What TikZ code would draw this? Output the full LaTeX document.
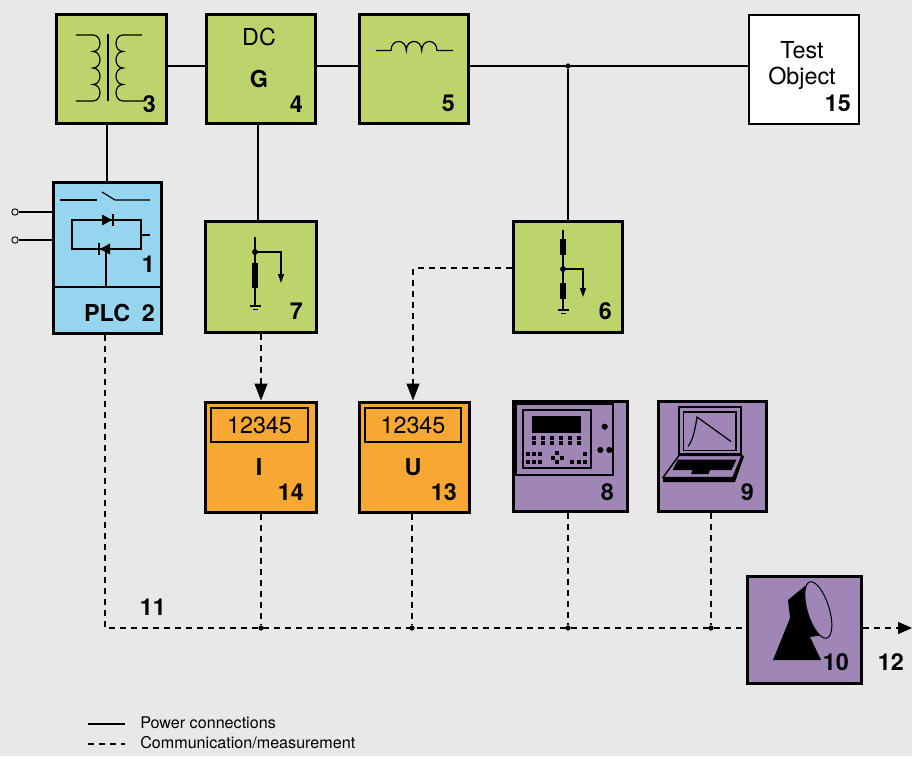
\documentclass[tikz,border=0pt]{standalone}
\usepackage{fontspec}
\setmainfont{TeX Gyre Heros}
\usetikzlibrary{arrows.meta}
\definecolor{bg}{HTML}{E8E8E8}
\definecolor{grn}{HTML}{BDD46C}
\definecolor{blu}{HTML}{96D5F0}
\definecolor{org}{HTML}{F6A833}
\definecolor{pur}{HTML}{A086B7}
\tikzset{
 myboxst/.style={draw=black, line width=2.25pt, inner sep=0pt, outer sep=1.125pt, rectangle},
 pwr/.style={line width=0.9pt},
 cmm/.style={line width=0.9pt, dash pattern=on 4.5pt off 3.75pt},
 arrowend/.style={-{Triangle[length=12.75pt,width=9.75pt]}},
 smallarrow/.style={-{Triangle[length=6.75pt,width=4.5pt]}},
 numlbl/.style={font=\fontsize{17.5}{20}\selectfont\bfseries, inner sep=0pt, anchor=base east},
 txtlbl/.style={font=\fontsize{17.5}{20}\selectfont, inner sep=0pt, anchor=base},
 boldlbl/.style={font=\fontsize{17.5}{20}\selectfont\bfseries, inner sep=0pt, anchor=base},
 leglbl/.style={font=\fontsize{12.1}{14}\selectfont, inner sep=0pt, anchor=base west},
 symln/.style={line width=0.9pt},
 jdot/.style={circle, fill=black, inner sep=0pt, minimum size=3.9pt},
 term/.style={circle, draw=black, fill=bg, line width=0.7pt, inner sep=0pt, minimum size=4.8pt},
}
\newcommand\mybox[6]{\node[myboxst,#2,minimum width={(#5-#3-3)*0.75pt},minimum height={(#6-#4-3)*0.75pt},anchor=north west] (#1) at ({#3+1.5},{#4+1.5}) {};}
\begin{document}
\begin{tikzpicture}[x=0.75pt,y=-0.75pt]
\useasboundingbox (0,0) rectangle (912,756);
\fill[bg] (0,0) rectangle (912,756);

% boxes
\mybox{b3}{fill=grn}{53}{12}{166}{124}
\mybox{b4}{fill=grn}{203}{12}{315}{124}
\mybox{b5}{fill=grn}{356}{12}{468}{124}
\mybox{b15}{fill=white,line width=1.9pt}{746}{12}{859}{124}
\mybox{b1}{fill=blu}{50}{179}{161}{333}
\mybox{b7}{fill=grn}{202}{218}{316}{332}
\mybox{b6}{fill=grn}{510}{218}{622}{332}
\mybox{b14}{fill=org}{202}{399}{316}{512}
\mybox{b13}{fill=org}{356}{399}{469}{512}
\mybox{b8}{fill=pur}{510}{398}{627}{511}
\mybox{b9}{fill=pur}{655}{398}{766}{511}
\mybox{b10}{fill=pur}{744}{573}{861}{683}

% transformer (3)
\draw[symln] (76,35) -- (93,35) .. controls (102.3,35) and (102.3,51.5) .. (93,51.5)
  .. controls (102.3,51.5) and (102.3,68) .. (93,68)
  .. controls (102.3,68) and (102.3,84.5) .. (93,84.5)
  .. controls (102.3,84.5) and (102.3,101) .. (93,101) -- (76,101);
\draw[line width=1.6pt] (108,34) -- (108,101);
\draw[symln] (142,35) -- (123,35) .. controls (113.7,35) and (113.7,51.5) .. (123,51.5)
  .. controls (113.7,51.5) and (113.7,68) .. (123,68)
  .. controls (113.7,68) and (113.7,84.5) .. (123,84.5)
  .. controls (113.7,84.5) and (113.7,101) .. (123,101) -- (145,101);

% inductor (5)
\draw[symln] (376,50.5) -- (391,50.5) .. controls (391,38.5) and (406.3,38.5) .. (406.3,50.5)
  .. controls (406.3,38.5) and (421.7,38.5) .. (421.7,50.5)
  .. controls (421.7,38.5) and (437,38.5) .. (437,50.5) -- (453,50.5);

% box 1/2 symbols
\draw[symln] (60,200) -- (97,200);
\draw[symln] (102,192) -- (115,200) -- (150,200);
\draw[symln] (72,220) rectangle (141,249);
\fill (102,214.5) -- (112,220) -- (102,225.5) -- cycle;
\draw[symln] (113,214) -- (113,226);
\fill (110,243.5) -- (100,249) -- (110,254.5) -- cycle;
\draw[symln] (99,243) -- (99,255);
\draw[symln] (106,249) -- (106,287);
\draw[symln] (141,235) -- (150,235);
\draw[line width=1pt] (51.5,287) -- (159.5,287);

% box 7 symbol
\draw[symln] (255,237) -- (255,306);
\fill (252,263) rectangle (258,288);
\fill (255,252) circle[radius=2.2pt];
\draw[symln,smallarrow] (255,252) -- (281,252) -- (281,283);
\draw[symln] (249.5,306) -- (260.5,306);
\draw[symln] (252.5,309.5) -- (257.5,309.5);

% box 6 symbol
\draw[symln] (563,230) -- (563,310);
\fill (560,239) rectangle (566,255);
\fill (560,283) rectangle (566,299);
\fill (563,269) circle[radius=2.2pt];
\draw[symln,smallarrow] (563,269) -- (583,269) -- (583,297);
\draw[symln] (557.5,310) -- (568.5,310);
\draw[symln] (560.5,313.5) -- (565.5,313.5);

% displays 14 / 13
\draw[line width=1pt] (211,408) rectangle (308,442);
\draw[line width=1pt] (365,408) rectangle (461,442);

% box 8 device
\draw[line width=0.9pt] (516,404) rectangle (613,475);
\draw[line width=0.9pt] (523,410) rectangle (591,468);
\fill (532,416) rectangle (581,433);
\foreach \x in {533.7,542.7,552,561,570,578.7}
  \foreach \y in {437.7,443.3}
    \fill (\x-2,\y-2) rectangle (\x+2,\y+2);
\foreach \x in {527.7,533.7,539.7}
  \foreach \y in {454.3,461.7}
    \fill (\x-2,\y-2) rectangle (\x+2,\y+2);
\foreach \x/\y in {557/453.3,552.5/457.5,561.5/457.5,557/461.7,584.7/454.3,572/461.7,578.7/461.7,584.7/461.7}
    \fill (\x-2,\y-2) rectangle (\x+2,\y+2);
\fill (604.7,426.7) circle[radius=2.3pt];
\fill (600.3,450) circle[radius=2.3pt];
\fill (609.3,450) circle[radius=2.3pt];

% box 9 laptop
\draw[line width=1.1pt] (679,407) rectangle (741,454);
\draw[line width=0.8pt] (683.5,412) rectangle (736,450.5);
\draw[symln] (688,446.5) .. controls (693,440) and (695,430) .. (697,417) -- (731,441.5);
\draw[line width=1.1pt, fill=pur] (679,455.5) -- (742,455.5) -- (733,477.5) -- (663,477.5) -- cycle;
\fill (663,477.5) -- (733,477.5) -- (742,455.5) -- (744,456.5) -- (735,482) -- (663,482) -- cycle;
\fill (678,459.5) -- (736.5,459.5) -- (731.5,470) -- (710,470) -- (708.5,474) -- (691,474) -- (692.5,470) -- (672.5,470) -- cycle;

% box 10 dish
\fill (810,582) -- (788,600) -- (790,618) -- (773,660) -- (821,660) -- (810,637) -- (820,635.5) -- (814,610) -- cycle;
\draw[line width=0.75pt, fill=pur, rotate around={17:(818.3,610)}] (818.3,610) ellipse [x radius=8.2pt, y radius=22pt];

% power connections
\coordinate (ytop) at (0,66);
\draw[pwr] (b3.east |- ytop) -- (b4.west |- ytop);
\draw[pwr] (b4.east |- ytop) -- (b5.west |- ytop);
\draw[pwr] (b5.east |- ytop) -- (b15.west |- ytop);
\node[jdot] (j1) at (568,66) {};
\draw[pwr] (j1) -- (j1 |- b6.north);
\coordinate (x107) at (107,0);
\draw[pwr] (x107 |- b3.south) -- (x107 |- b1.north);
\coordinate (x258) at (258,0);
\draw[pwr] (x258 |- b4.south) -- (x258 |- b7.north);
\node[term] (t1) at (15,212) {};
\node[term] (t2) at (15,240) {};
\draw[pwr] (t1) -- (t1 -| b1.west);
\draw[pwr] (t2) -- (t2 -| b1.west);

% communication / measurement
\coordinate (x261) at (261,0);
\draw[cmm,arrowend] (x261 |- b7.south) -- (x261 |- b14.north);
\coordinate (y268) at (0,268);
\coordinate (x413) at (413,0);
\draw[cmm,arrowend] (b6.west |- y268) -| (x413 |- b13.north);
\coordinate (ybus) at (0,628);
\coordinate (x105) at (105,0);
\draw[cmm] (x105 |- b1.south) |- (b10.west |- ybus);
\node[jdot] (d14) at (261,628) {};
\node[jdot] (d13) at (412,628) {};
\node[jdot] (d8) at (568,628) {};
\node[jdot] (d9) at (711,628) {};
\draw[cmm] (d14 |- b14.south) -- (d14);
\draw[cmm] (d13 |- b13.south) -- (d13);
\draw[cmm] (d8 |- b8.south) -- (d8);
\draw[cmm] (d9 |- b9.south) -- (d9);
\coordinate (out) at (912,628);
\draw[cmm,-{Triangle[length=10.5pt,width=9pt]}] (b10.east |- ybus) -- (out);

% labels
\node[numlbl] (n3) at (156,113) {3};
\node[txtlbl] (dc) at (259,46) {DC};
\node[boldlbl] (g) at (259,88) {G};
\node[numlbl] (n4) at (303,113) {4};
\node[numlbl] (n5) at (455,112) {5};
\node[txtlbl] (tst1) at (802,59) {Test};
\node[txtlbl] (tst2) at (802,84.5) {Object};
\node[numlbl] (n15) at (851,112) {15};
\node[numlbl] (n1) at (155,272) {1};
\node[numlbl] (n2) at (155,321) {PLC\hspace{0.5em}2};
\node[numlbl] (n7) at (303,319) {7};
\node[numlbl] (n6) at (612,319) {6};
\node[txtlbl] (disp14) at (259.5,433) {12345};
\node[txtlbl] (disp13) at (413,433) {12345};
\node[boldlbl] (li) at (259,475) {I};
\node[boldlbl] (lu) at (413,475) {U};
\node[numlbl] (n14) at (304,500) {14};
\node[numlbl] (n13) at (457,500) {13};
\node[numlbl] (n8) at (614,500) {8};
\node[numlbl] (n9) at (754,500) {9};
\node[numlbl] (n10) at (849,670) {10};
\node[numlbl] (n12) at (904,670) {12};
\node[numlbl] (n11) at (166,615) {11};

% legend
\coordinate (lg1a) at (88,724);
\coordinate (lg1b) at (125,724);
\coordinate (lg2a) at (88,744);
\coordinate (lg2b) at (125,744);
\draw[pwr] (lg1a) -- (lg1b);
\draw[cmm] (lg2a) -- (lg2b);
\node[leglbl] (leg1) at (140,728) {Power connections};
\node[leglbl] (leg2) at (140,748) {Communication/measurement};
\end{tikzpicture}
\end{document}
